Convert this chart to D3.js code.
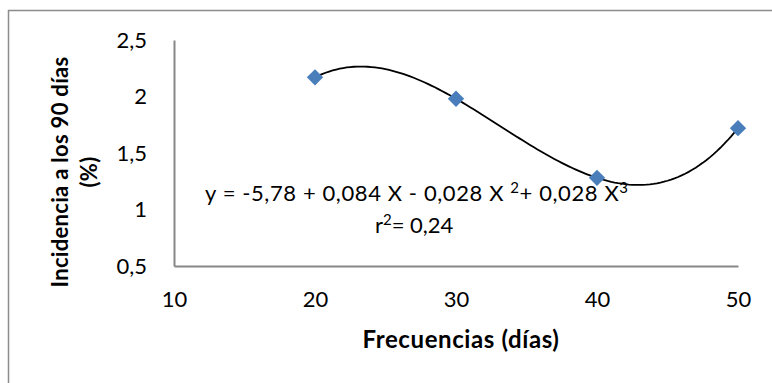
<!DOCTYPE html>
<html>
<head>
<meta charset="utf-8">
<script src="https://cdn.jsdelivr.net/npm/d3@7/dist/d3.min.js"></script>
<style>
  html, body { margin: 0; padding: 0; background: #fff; }
  svg { display: block; font-family: Lato, "Open Sans", sans-serif; }
</style>
</head>
<body>
<svg id="chart" width="772" height="383"></svg>
<script>
// Incidence at 90 days vs. application frequency
const frecuencias = [20, 30, 40, 50];
const incidencia = [2.17, 1.98, 1.28, 1.72];
const xTicks = [10, 20, 30, 40, 50];
const yTicks = [0.5, 1, 1.5, 2, 2.5];
const xTitle = "Frecuencias (días)";
const yTitleLines = ["Incidencia a los 90 días", "(%)"];

const svg = d3.select("#chart");
const W = 772, H = 383;

// outer chart frame
svg.append("rect")
  .attr("x", 8.5).attr("y", 10.5)
  .attr("width", W + 10).attr("height", H + 10)
  .attr("fill", "#fff").attr("stroke", "#8c8c8c").attr("stroke-width", 1.5);

const x = d3.scaleLinear().domain([10, 50]).range([174, 738]);
const y = d3.scaleLinear().domain([0.5, 2.5]).range([266, 40]);

const comma = d => String(d).replace(".", ",");

// axes
const gx = svg.append("g").attr("transform", `translate(0,${y(0.5)})`)
  .call(d3.axisBottom(x).tickValues(xTicks).tickSize(0).tickPadding(25).tickFormat(comma));
const gy = svg.append("g").attr("transform", `translate(${x(10)},0)`)
  .call(d3.axisLeft(y).tickValues(yTicks).tickSize(0).tickPadding(27).tickFormat(comma));
[gx, gy].forEach(g => {
  g.select(".domain").attr("stroke", "#878787").attr("stroke-width", 2);
  g.selectAll("text").attr("font-size", 22).attr("fill", "#000").attr("font-family", "Lato, sans-serif");
});

// cubic polynomial trend, least squares on a centred variable u = (x - 35) / 10
function polyFit(xs, ys, deg, x0, s) {
  const n = deg + 1;
  const A = Array.from({length: n}, () => new Array(n + 1).fill(0));
  xs.forEach((xv, k) => {
    const u = (xv - x0) / s;
    for (let i = 0; i < n; i++) {
      for (let j = 0; j < n; j++) A[i][j] += Math.pow(u, i + j);
      A[i][n] += ys[k] * Math.pow(u, i);
    }
  });
  for (let c = 0; c < n; c++) {
    let p = c;
    for (let r = c + 1; r < n; r++) {
      if (Math.abs(A[r][c]) > Math.abs(A[p][c])) p = r;
    }
    const tmp = A[c]; A[c] = A[p]; A[p] = tmp;
    for (let r = 0; r < n; r++) {
      if (r === c) continue;
      const f = A[r][c] / A[c][c];
      for (let k = c; k <= n; k++) A[r][k] -= f * A[c][k];
    }
  }
  return A.map((row, i) => row[n] / row[i]);
}
const X0 = 35, XS = 10;
const coef = polyFit(frecuencias, incidencia, 3, X0, XS);
const trend = xv => coef.reduce((s, c, i) => s + c * Math.pow((xv - X0) / XS, i), 0);
const xs = d3.range(d3.min(frecuencias), d3.max(frecuencias) + 0.001, 0.25);

svg.append("path")
  .datum(xs)
  .attr("fill", "none").attr("stroke", "#000").attr("stroke-width", 1.8)
  .attr("d", d3.line().x(d => x(d)).y(d => y(trend(d))));

// data markers
svg.append("g").selectAll("path")
  .data(frecuencias.map((f, i) => [f, incidencia[i]]))
  .join("path")
  .attr("transform", d => `translate(${x(d[0])},${y(d[1])})`)
  .attr("d", d3.symbol(d3.symbolDiamond2, 170)())
  .attr("fill", "#4a7ebb");

// equation and r²
const eq = svg.append("text").attr("x", 205).attr("y", 201)
  .attr("font-size", 22).attr("letter-spacing", 0.6).attr("fill", "#000");
eq.append("tspan").text("y = -5,78 + 0,084 X - 0,028 X ");
eq.append("tspan").attr("font-size", 15).attr("dy", -8).text("2");
eq.append("tspan").attr("dy", 8).text("+ 0,028 X");
eq.append("tspan").attr("font-size", 15).attr("dy", -8).text("3");

const r2 = svg.append("text").attr("x", 375).attr("y", 233)
  .attr("font-size", 22).attr("fill", "#000");
r2.append("tspan").text("r");
r2.append("tspan").attr("font-size", 15).attr("dy", -8).text("2");
r2.append("tspan").attr("dy", 8).text("= 0,24");

// axis titles
svg.append("text").attr("x", 461).attr("y", 348)
  .attr("text-anchor", "middle").attr("font-size", 24).attr("letter-spacing", 0.6)
  .attr("font-weight", "bold")
  .text(xTitle);

const yt = svg.append("text").attr("transform", "translate(68,172) rotate(-90)")
  .attr("text-anchor", "middle").attr("font-size", 22).attr("letter-spacing", 0.3)
  .attr("font-weight", "bold");
yt.append("tspan").attr("x", 0).attr("y", 0).text(yTitleLines[0]);
yt.append("tspan").attr("x", 0).attr("y", 29).text(yTitleLines[1]);
</script>
</body>
</html>
